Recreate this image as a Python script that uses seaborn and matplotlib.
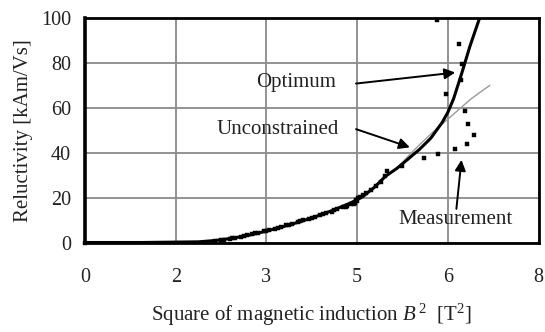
import numpy as np
import pandas as pd
import matplotlib
matplotlib.use("Agg")
import matplotlib.pyplot as plt
import seaborn as sns

# Optimum fitted reluctivity curve (B^2 in T^2, reluctivity in kAm/Vs)
opt_b2 = [0.0, 1.0, 2.0, 2.3, 2.6, 2.9, 3.2, 3.5, 3.8, 4.1, 4.4, 4.7, 4.9, 5.1,
          5.3, 5.5, 5.7, 5.9, 6.1, 6.3, 6.4, 6.5, 6.64, 6.79, 6.98]
opt_nu = [0.0, 0.0, 0.3, 0.9, 1.9, 3.3, 5.1, 7.1, 9.3, 11.8, 14.6, 17.8, 20.5, 24.5,
          29.5, 33.0, 37.2, 41.5, 46.5, 53.5, 58.0, 64.0, 75.0, 87.5, 101.5]

# Unconstrained fit: follows the optimum, then straighter at high induction
unc_b2 = [0.0, 1.0, 2.0, 2.3, 2.6, 2.9, 3.2, 3.5, 3.8, 4.1, 4.4, 4.7, 4.9, 5.1,
          5.3, 5.5, 5.73, 5.91, 6.14, 6.3, 6.44, 6.6, 6.8, 7.0, 7.14]
unc_nu = [0.0, 0.0, 0.3, 0.9, 1.9, 3.3, 5.1, 7.1, 9.3, 11.8, 14.6, 17.8, 20.5, 24.5,
          29.5, 32.8, 39.3, 43.8, 49.3, 52.8, 55.8, 59.4, 63.8, 67.5, 70.0]

# Measured points
meas_b2 = [0.0, 2.3, 2.4, 2.45, 2.55, 2.6, 2.65, 2.75, 2.8, 2.85, 2.95, 3.0, 3.05,
           3.15, 3.2, 3.25, 3.35, 3.4, 3.45, 3.55, 3.6, 3.65, 3.75, 3.8, 3.85,
           3.95, 4.0, 4.05, 4.15, 4.2, 4.25, 4.35, 4.4, 4.45, 4.55, 4.6,
           4.62, 4.7, 4.74, 4.76, 4.78, 4.8, 4.82, 4.85, 4.9, 4.96, 5.05, 5.14,
           5.22, 5.29, 5.32, 5.59, 5.98, 6.22, 6.52, 6.73, 6.86, 6.76, 6.71, 6.36,
           6.63, 6.65, 6.60, 6.21]
meas_nu = [0.0, 0.7, 1.1, 1.3, 1.6, 2.0, 2.1, 2.6, 2.7, 3.2, 3.7, 4.1, 4.3,
           4.9, 5.3, 5.6, 6.2, 6.6, 6.9, 7.6, 7.9, 8.3, 9.0, 9.5, 9.8,
           10.6, 10.8, 11.3, 12.1, 12.6, 13.0, 13.8, 14.3, 14.7, 15.6, 15.9,
           16.3, 17.2, 17.0, 17.8, 19.0, 18.5, 19.6, 20.4, 21.2, 22.0, 23.4, 25.3,
           27.0, 29.5, 32.0, 34.2, 37.6, 39.6, 41.5, 43.8, 47.9, 52.6, 58.6, 66.0,
           72.2, 79.4, 88.3, 99.0]

x_ticks = [0.0, 1.6, 3.2, 4.8, 6.4, 8.0]
x_tick_labels = ["0", "2", "3", "5", "6", "8"]
y_ticks = [0, 20, 40, 60, 80, 100]

sns.set_style("white")
plt.rcParams["font.family"] = ["Liberation Serif", "DejaVu Serif"]
plt.rcParams["mathtext.fontset"] = "custom"
plt.rcParams["mathtext.rm"] = "Liberation Serif"
plt.rcParams["mathtext.it"] = "Liberation Serif:italic"

fig = plt.figure(figsize=(5.45, 3.32), dpi=100)
ax = fig.add_axes([85 / 545, 1 - 242.5 / 332, (538.6 - 85) / 545, (242.5 - 18) / 332])

opt = pd.DataFrame({"b2": opt_b2, "nu": opt_nu})
unc = pd.DataFrame({"b2": unc_b2, "nu": unc_nu})
meas = pd.DataFrame({"b2": meas_b2, "nu": meas_nu})

grid_c = "#8a8a8a"
ax.set_xlim(0, 8)
ax.set_ylim(0, 100)
ax.set_xticks(x_ticks)
ax.set_xticklabels(x_tick_labels)
ax.set_yticks(y_ticks)
ax.grid(True, color=grid_c, lw=1.3)
ax.set_axisbelow(True)

sns.lineplot(data=unc, x="b2", y="nu", ax=ax, color="#9a9a9a", lw=1.0, zorder=3)
sns.lineplot(data=opt, x="b2", y="nu", ax=ax, color="black", lw=2.2, zorder=4,
             clip_on=True)
sns.scatterplot(data=meas, x="b2", y="nu", ax=ax, marker="s", s=12, color="black",
                edgecolor="black", linewidth=0.3, zorder=5, clip_on=False)

for side in ["left", "right", "top", "bottom"]:
    ax.spines[side].set_visible(True)
    ax.spines[side].set_color("black")
    ax.spines[side].set_linewidth(2.0)
ax.spines["left"].set_linewidth(2.6)

ax.tick_params(axis="both", which="major", direction="out", length=6, width=1.2,
               color=grid_c, labelsize=14.5, labelcolor="#222222", pad=4)
ax.tick_params(axis="x", pad=12)

fs = 15
ax.set_xlabel(r"Square of magnetic induction $B^{\,2}$  [T$^{2}$]", fontsize=fs,
              color="#222222", labelpad=11)
ax.set_ylabel("Reluctivity [kAm/Vs]", fontsize=fs, color="#222222", labelpad=6)

arrow = dict(arrowstyle="-|>", color="black", lw=1.4, mutation_scale=16,
             shrinkA=0, shrinkB=0)
ax.text(4.43, 71.3, "Optimum", ha="right", va="center", fontsize=fs, color="#222222")
ax.annotate("", xy=(6.53, 75.7), xytext=(4.78, 70.8), arrowprops=arrow, zorder=6)
ax.text(4.48, 50.5, "Unconstrained", ha="right", va="center", fontsize=fs,
        color="#222222")
ax.annotate("", xy=(5.73, 42.4), xytext=(4.78, 50.5), arrowprops=arrow, zorder=6)
ax.text(6.53, 10.3, "Measurement", ha="center", va="center", fontsize=fs,
        color="#222222")
ax.annotate("", xy=(6.64, 36.8), xytext=(6.55, 15.0), arrowprops=arrow, zorder=6)

fig.savefig("out.png", dpi=100)
